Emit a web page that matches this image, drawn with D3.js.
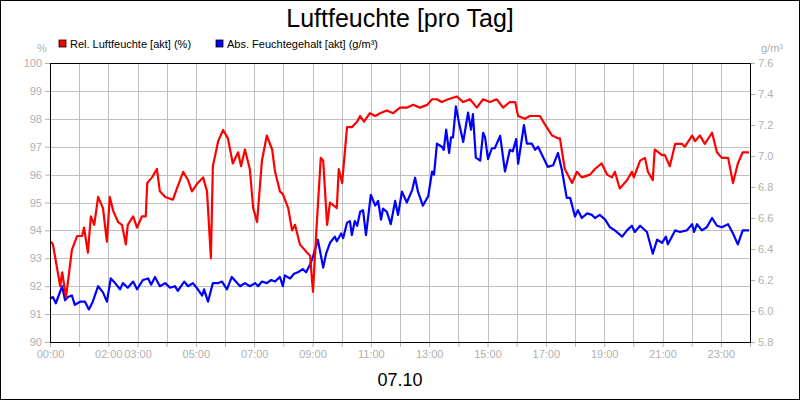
<!DOCTYPE html>
<html>
<head>
<meta charset="utf-8">
<script src="https://cdn.jsdelivr.net/npm/d3@7"></script>
<style>
  body { margin: 0; background: #fff; }
  text { font-family: "Liberation Sans", Arial, sans-serif; }
</style>
</head>
<body>
<svg id="chart" width="800" height="400"></svg>
<script>
// minutes since midnight, value
const relHumidity = [
  [2,93.6],[6,93.5],[21,92.0],[25,92.5],[33,91.6],[45,93.3],[56,93.8],[66,93.8],[70,94.1],[78,93.2],
  [84,94.5],[91,94.2],[99,95.2],[109,94.8],[117,93.6],[123,95.2],[130,94.7],[140,94.3],[148,94.2],[156,93.5],
  [160,94.2],[171,94.5],[179,94.1],[189,94.5],[197,94.5],[200,95.7],[210,95.9],[220,96.2],[226,95.4],[237,95.2],
  [253,95.1],[261,95.5],[274,96.1],[284,95.8],[292,95.4],[304,95.7],[315,95.9],[323,95.4],[331,93.0],[335,96.3],
  [346,97.2],[356,97.6],[366,97.3],[376,96.4],[387,96.8],[393,96.3],[401,96.9],[411,96.2],[418,94.8],[426,94.3],
  [436,96.5],[446,97.4],[457,96.9],[463,96.1],[473,95.4],[479,95.3],[490,94.8],[498,94.0],[504,94.2],[514,93.5],
  [529,93.2],[535,93.1],[541,91.8],[549,94.3],[557,96.6],[562,96.5],[570,94.2],[576,95.0],[590,94.8],[594,96.2],
  [601,95.7],[611,97.7],[621,97.7],[632,97.9],[638,98.1],[646,97.9],[658,98.2],[669,98.1],[679,98.2],[693,98.3],
  [706,98.2],[720,98.4],[734,98.4],[747,98.5],[761,98.4],[776,98.5],[786,98.7],[796,98.7],[806,98.6],[819,98.7],
  [837,98.8],[850,98.6],[864,98.7],[878,98.4],[891,98.7],[905,98.6],[919,98.7],[932,98.4],[946,98.6],[957,98.6],
  [963,98.1],[977,98.0],[987,98.1],[1008,98.1],[1018,97.8],[1033,97.4],[1045,97.3],[1049,97.3],[1059,96.2],[1074,95.7],
  [1084,96.1],[1094,95.9],[1111,96.0],[1121,96.2],[1135,96.4],[1146,96.0],[1156,95.9],[1162,96.1],[1172,95.5],[1187,95.8],
  [1197,96.1],[1201,95.9],[1214,96.5],[1224,96.6],[1230,96.1],[1240,95.8],[1244,96.9],[1259,96.7],[1265,96.7],[1275,96.3],
  [1286,97.1],[1300,97.1],[1306,97.0],[1321,97.4],[1327,97.2],[1337,97.4],[1347,97.1],[1362,97.5],[1372,96.8],[1382,96.6],
  [1395,96.6],[1405,95.7],[1415,96.4],[1425,96.8],[1438,96.8]
];
const absHumidity = [
  [0,6.08],[6,6.09],[12,6.05],[25,6.16],[31,6.07],[37,6.09],[45,6.10],[51,6.04],[62,6.06],[72,6.06],
  [80,6.01],[88,6.06],[99,6.16],[109,6.12],[117,6.06],[125,6.21],[134,6.18],[144,6.14],[150,6.18],[160,6.15],
  [171,6.19],[179,6.14],[191,6.20],[202,6.21],[208,6.17],[216,6.22],[226,6.16],[237,6.18],[247,6.15],[257,6.16],
  [263,6.13],[276,6.19],[284,6.16],[294,6.18],[304,6.14],[313,6.10],[317,6.14],[325,6.06],[335,6.18],[346,6.18],
  [354,6.19],[364,6.14],[374,6.22],[391,6.16],[401,6.18],[411,6.16],[422,6.18],[428,6.16],[436,6.19],[446,6.18],
  [455,6.20],[463,6.19],[473,6.22],[479,6.16],[483,6.23],[494,6.21],[502,6.24],[510,6.25],[520,6.27],[527,6.25],
  [535,6.30],[541,6.35],[551,6.46],[562,6.28],[568,6.37],[576,6.44],[586,6.48],[590,6.45],[599,6.50],[603,6.47],
  [611,6.57],[617,6.58],[621,6.49],[627,6.58],[632,6.55],[638,6.64],[644,6.65],[650,6.49],[660,6.75],[669,6.68],
  [675,6.71],[681,6.59],[685,6.66],[693,6.64],[701,6.56],[710,6.71],[716,6.62],[724,6.77],[734,6.70],[745,6.78],
  [751,6.86],[757,6.77],[767,6.68],[778,6.74],[786,6.90],[790,6.88],[796,7.08],[806,7.06],[810,7.04],[815,7.17],
  [821,7.02],[825,7.12],[829,7.12],[835,7.32],[841,7.22],[850,7.09],[860,7.28],[866,7.17],[870,7.27],[876,6.99],
  [885,6.97],[891,7.15],[895,7.12],[901,6.98],[909,7.05],[915,7.05],[926,7.13],[936,6.90],[946,7.04],[952,7.03],
  [959,7.11],[963,6.95],[975,7.20],[981,7.08],[991,7.08],[998,7.04],[1004,7.06],[1018,6.97],[1024,6.93],[1035,6.94],
  [1045,7.02],[1053,6.91],[1063,6.73],[1070,6.73],[1080,6.61],[1086,6.65],[1094,6.60],[1105,6.63],[1115,6.62],[1121,6.60],
  [1131,6.62],[1142,6.59],[1152,6.54],[1162,6.52],[1177,6.48],[1187,6.52],[1197,6.55],[1203,6.51],[1214,6.55],[1228,6.51],
  [1240,6.37],[1249,6.46],[1259,6.44],[1267,6.48],[1271,6.43],[1286,6.52],[1296,6.51],[1310,6.52],[1321,6.56],[1325,6.51],
  [1331,6.56],[1341,6.52],[1351,6.54],[1362,6.60],[1372,6.55],[1382,6.54],[1395,6.56],[1405,6.50],[1415,6.43],[1425,6.52],
  [1438,6.52]
];
const hourLabels = ['00:00','','02:00','03:00','','05:00','','07:00','','09:00','','11:00','',
  '13:00','','15:00','','17:00','','19:00','','21:00','','23:00',''];
const leftTicks = d3.range(90, 101, 1);
const rightTicks = d3.range(5.8, 7.61, 0.2);
const seriesNames = ['Rel. Luftfeuchte [akt] (%)', 'Abs. Feuchtegehalt [akt] (g/m³)'];
const seriesColors = ['#ff0000', '#0000ff'];

const svg = d3.select('#chart');
const margin = { left: 50, right: 50, top: 63, bottom: 58 };
const W = 800, H = 400;
const gray = '#b0b0b0';

const x = d3.scaleLinear().domain([0, 1440]).range([margin.left, W - margin.right]);
const yL = d3.scaleLinear().domain([90, 100]).range([H - margin.bottom, margin.top]);
const yR = d3.scaleLinear().domain([5.8, 7.6]).range([H - margin.bottom, margin.top]);

svg.append('rect').attr('x', 0.5).attr('y', 0.5).attr('width', W - 1).attr('height', H - 1)
  .attr('fill', '#fff').attr('stroke', '#000');

svg.append('text').attr('x', W / 2).attr('y', 27).attr('text-anchor', 'middle')
  .style('font-size', '25px').text('Luftfeuchte [pro Tag]');

// grid
const grid = svg.append('g').attr('stroke', '#c0c0c0').attr('stroke-width', 1);
grid.selectAll('.v').data(d3.range(1, 24)).join('line')
  .attr('x1', d => Math.round(x(d * 60)) + 0.5).attr('x2', d => Math.round(x(d * 60)) + 0.5)
  .attr('y1', margin.top).attr('y2', H - margin.bottom);
grid.selectAll('.h').data(leftTicks.slice(1, -1)).join('line')
  .attr('x1', margin.left).attr('x2', W - margin.right)
  .attr('y1', d => Math.round(yL(d)) + 0.5).attr('y2', d => Math.round(yL(d)) + 0.5);

// axes
const styleAxis = g => {
  g.select('.domain').remove();
  g.selectAll('.tick line').attr('stroke', gray);
  g.selectAll('.tick text').attr('fill', gray).style('font-size', '11px')
    .style('font-family', '"Liberation Sans", Arial, sans-serif');
};
svg.append('g').attr('transform', `translate(${margin.left},0)`)
  .call(d3.axisLeft(yL).tickValues(leftTicks).tickSize(5).tickPadding(3)).call(styleAxis);
svg.append('g').attr('transform', `translate(${W - margin.right},0)`)
  .call(d3.axisRight(yR).tickValues(rightTicks).tickSize(5).tickPadding(3).tickFormat(d3.format('.1f'))).call(styleAxis);
svg.append('g').attr('transform', `translate(0,${H - margin.bottom})`)
  .call(d3.axisBottom(x).tickValues(d3.range(0, 1441, 60)).tickSize(5).tickPadding(3)
    .tickFormat((d, i) => hourLabels[i])).call(styleAxis);

svg.append('text').attr('x', 42).attr('y', 52).attr('text-anchor', 'middle')
  .attr('fill', gray).style('font-size', '11px').text('%');
svg.append('text').attr('x', 772).attr('y', 52).attr('text-anchor', 'middle')
  .attr('fill', gray).style('font-size', '11px').text('g/m³');

// lines
const lineL = d3.line().x(d => x(d[0])).y(d => yL(d[1]));
const lineR = d3.line().x(d => x(d[0])).y(d => yR(d[1]));
svg.append('path').datum(absHumidity).attr('d', lineR).attr('fill', 'none')
  .attr('stroke', seriesColors[1]).attr('stroke-width', 2.2).attr('stroke-linejoin', 'round');
svg.append('path').datum(relHumidity).attr('d', lineL).attr('fill', 'none')
  .attr('stroke', seriesColors[0]).attr('stroke-width', 2.2).attr('stroke-linejoin', 'round');

// plot frame
svg.append('rect').attr('x', margin.left + 0.5).attr('y', margin.top + 0.5)
  .attr('width', W - margin.left - margin.right).attr('height', H - margin.top - margin.bottom)
  .attr('fill', 'none').attr('stroke', '#000');

// legend
const legendX = [59, 216];
const legend = svg.append('g').selectAll('g').data(seriesNames).join('g')
  .attr('transform', (d, i) => `translate(${legendX[i]},40)`);
legend.append('rect').attr('width', 7).attr('height', 7).attr('fill', (d, i) => seriesColors[i])
  .attr('stroke', '#000').attr('stroke-width', 0.8);
legend.append('text').attr('x', 11).attr('y', 8).style('font-size', '11px').text(d => d);

svg.append('text').attr('x', W / 2).attr('y', 386).attr('text-anchor', 'middle')
  .style('font-size', '18px').text('07.10');
</script>
</body>
</html>
